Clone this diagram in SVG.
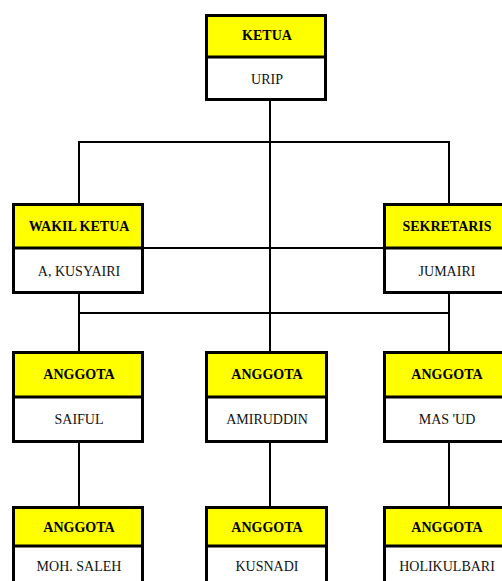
<svg xmlns="http://www.w3.org/2000/svg" width="502" height="581" viewBox="0 0 502 581">
<style>
.box{fill:#fff;stroke:#000;stroke-width:3}
.hd{fill:#ffff00}
.div{stroke:#000;stroke-width:3}
.c{stroke:#000;stroke-width:2;fill:none}
text{font-family:"Times New Roman","Liberation Serif",Tinos,serif;font-size:14px;text-anchor:middle;fill:#111}
.b{font-weight:bold;fill:#000}
</style>
<rect width="502" height="581" fill="#fff"/>
<g id="connectors">
<path class="c" d="M270 101V352M78 142H450M79 142V204M449 142V204M144 248H384M79 293V352M449 293V352M79 313H449M79 443V507M270 443V507M449 443V507"/>
</g>
<g id="ketua">
<rect class="box" x="206.5" y="15.5" width="119" height="84"/>
<rect class="hd" x="208" y="17" width="116" height="40"/>
<line class="div" x1="206.5" y1="57" x2="325.5" y2="57"/>
<text class="b" x="267" y="40">KETUA</text>
<text x="267" y="84">URIP</text>
</g>
<g id="wakil">
<rect class="box" x="13.5" y="204.5" width="129" height="88"/>
<rect class="hd" x="15" y="206" width="126" height="42"/>
<line class="div" x1="13.5" y1="248" x2="142.5" y2="248"/>
<text class="b" x="79" y="231">WAKIL KETUA</text>
<text x="79" y="276">A, KUSYAIRI</text>
</g>
<g id="sekretaris">
<rect class="box" x="384.5" y="204.5" width="129" height="88"/>
<rect class="hd" x="386" y="206" width="126" height="42"/>
<line class="div" x1="384.5" y1="248" x2="513.5" y2="248"/>
<text class="b" x="447" y="231">SEKRETARIS</text>
<text x="447" y="276">JUMAIRI</text>
</g>
<g id="anggota-saiful">
<rect class="box" x="13.5" y="352.5" width="129" height="89"/>
<rect class="hd" x="15" y="354" width="126" height="43"/>
<line class="div" x1="13.5" y1="397" x2="142.5" y2="397"/>
<text class="b" x="79" y="379">ANGGOTA</text>
<text x="79" y="424">SAIFUL</text>
</g>
<g id="anggota-amiruddin">
<rect class="box" x="206.5" y="352.5" width="120" height="89"/>
<rect class="hd" x="208" y="354" width="117" height="43"/>
<line class="div" x1="206.5" y1="397" x2="326.5" y2="397"/>
<text class="b" x="267" y="379">ANGGOTA</text>
<text x="267" y="424">AMIRUDDIN</text>
</g>
<g id="anggota-masud">
<rect class="box" x="384.5" y="352.5" width="129" height="89"/>
<rect class="hd" x="386" y="354" width="126" height="43"/>
<line class="div" x1="384.5" y1="397" x2="513.5" y2="397"/>
<text class="b" x="447" y="379">ANGGOTA</text>
<text x="447" y="424">MAS 'UD</text>
</g>
<g id="anggota-saleh">
<rect class="box" x="13.5" y="507.5" width="129" height="90"/>
<rect class="hd" x="15" y="509" width="126" height="37"/>
<line class="div" x1="13.5" y1="546" x2="142.5" y2="546"/>
<text class="b" x="79" y="532">ANGGOTA</text>
<text x="79" y="571">MOH. SALEH</text>
</g>
<g id="anggota-kusnadi">
<rect class="box" x="206.5" y="507.5" width="120" height="90"/>
<rect class="hd" x="208" y="509" width="117" height="37"/>
<line class="div" x1="206.5" y1="546" x2="326.5" y2="546"/>
<text class="b" x="267" y="532">ANGGOTA</text>
<text x="267" y="571">KUSNADI</text>
</g>
<g id="anggota-holikulbari">
<rect class="box" x="384.5" y="507.5" width="129" height="90"/>
<rect class="hd" x="386" y="509" width="126" height="37"/>
<line class="div" x1="384.5" y1="546" x2="513.5" y2="546"/>
<text class="b" x="447" y="532">ANGGOTA</text>
<text x="447" y="571">HOLIKULBARI</text>
</g>
</svg>
